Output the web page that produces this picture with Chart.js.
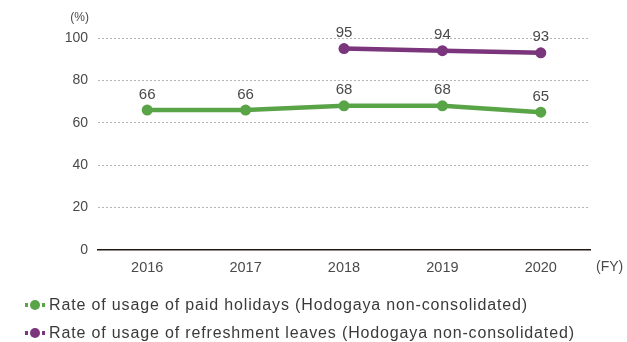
<!DOCTYPE html>
<html><head><meta charset="utf-8">
<script src="https://cdn.jsdelivr.net/npm/chart.js@4"></script>
<style>
html,body{margin:0;padding:0;background:#fff;}
#wrap{position:relative;width:627px;height:342px;overflow:hidden;font-family:"Liberation Sans",Arial,sans-serif;}
canvas{position:absolute;left:0;top:0;}
.leg{position:absolute;left:25px;font-size:16px;letter-spacing:0.85px;color:#3a3a3a;white-space:nowrap;display:flex;align-items:center;}
.ic{position:relative;width:20px;height:10px;margin-right:4px;}
.ic .ln{position:absolute;left:0;top:3px;width:20px;height:4px;}
.ic .dt{position:absolute;left:5px;top:0;width:10px;height:10px;border-radius:50%;}
</style></head>
<body><div id="wrap"><canvas id="c" width="627" height="342"></canvas>
<div class="leg" id="l1" style="top:296px"></div>
<div class="leg" id="l2" style="top:324px"></div>
</div>
<script>
const categories = ['2016','2017','2018','2019','2020'];
const paidHolidays = [66, 66, 68, 68, 65];
const refreshLeaves = [null, null, 95, 94, 93];
const seriesNames = ['Rate of usage of paid holidays (Hodogaya non-consolidated)','Rate of usage of refreshment leaves (Hodogaya non-consolidated)'];
const yTicks = [0,20,40,60,80,100];
const colors = ['#5aa448','#7a357c'];

[['l1',0],['l2',1]].forEach(([id,i])=>{
  const el=document.getElementById(id);
  el.innerHTML='<span class="ic"><span class="ln" style="background:linear-gradient(to right,'+colors[i]+' 0 3px,transparent 3px 17px,'+colors[i]+' 17px)"></span><span class="dt" style="background:'+colors[i]+'"></span></span>'+seriesNames[i];
});

const FONT = '"Liberation Sans", Arial, sans-serif';
const labelsPlugin = {
  id:'extras',
  afterDatasetsDraw(chart){
    const ctx=chart.ctx;
    ctx.save();
    ctx.fillStyle='#4a4a4a';
    ctx.font='15px '+FONT;
    ctx.textAlign='center';
    ctx.textBaseline='bottom';
    chart.data.datasets.forEach((ds,di)=>{
      const meta=chart.getDatasetMeta(di);
      meta.data.forEach((pt,i)=>{
        if(ds.data[i]==null) return;
        ctx.fillText(String(ds.data[i]), pt.x, pt.y-8);
      });
    });
    const a=chart.chartArea;
    ctx.font='12px '+FONT;
    ctx.textAlign='right';
    ctx.textBaseline='middle';
    ctx.fillText('(%)', a.left-9, a.top-20);
    ctx.font='14px '+FONT;
    ctx.textAlign='left';
    ctx.fillText('(FY)', a.right+6, a.bottom+17);
    ctx.restore();
  }
};

new Chart(document.getElementById('c'),{
  type:'line',
  data:{labels:categories,datasets:[
    {label:seriesNames[0],data:paidHolidays,borderColor:colors[0],backgroundColor:colors[0],borderWidth:4.5,pointRadius:5.5,pointHoverRadius:5.5,pointBorderWidth:0,tension:0},
    {label:seriesNames[1],data:refreshLeaves,borderColor:colors[1],backgroundColor:colors[1],borderWidth:4.5,pointRadius:5.5,pointHoverRadius:5.5,pointBorderWidth:0,tension:0}
  ]},
  options:{
    responsive:false,animation:false,
    layout:{padding:{top:38,right:37,left:0,bottom:0}},
    plugins:{legend:{display:false},tooltip:{enabled:false}},
    scales:{
      x:{offset:true,
        grid:{display:false,drawTicks:false},
        border:{display:true,color:'#231815',width:1.5},
        ticks:{color:'#4a4a4a',font:{size:14.5,family:FONT},padding:9},
        afterFit(s){s.height=92;}
      },
      y:{min:0,max:100,
        afterBuildTicks(s){s.ticks=yTicks.map(v=>({value:v}));},
        grid:{drawTicks:false,color:c=>c.tick&&c.tick.value===0?'rgba(0,0,0,0)':'#b5b5b5',lineWidth:1},
        border:{display:false,dash:[2,2]},
        ticks:{color:'#4a4a4a',font:{size:14,family:FONT},padding:10},
        afterFit(s){s.width=98;}
      }
    }
  },
  plugins:[labelsPlugin]
});
</script></body></html>
